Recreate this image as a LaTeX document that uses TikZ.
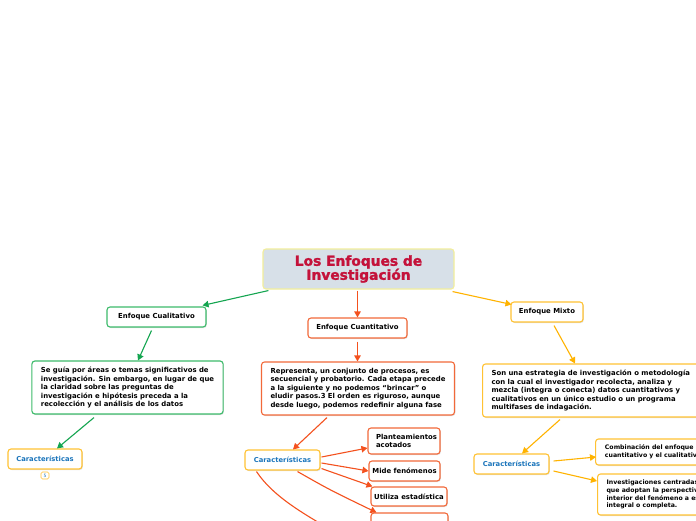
\documentclass[tikz,border=0pt]{standalone}
\usepackage{fontspec}
\setmainfont{DejaVu Sans}
\newfontfamily\titlefont{DejaVu Sans Bold}[FakeBold=1.8]
\usetikzlibrary{arrows.meta,shadows}
\definecolor{gline}{HTML}{14A550}
\definecolor{gbord}{HTML}{3DBB6B}
\definecolor{oline}{HTML}{F4511E}
\definecolor{obord}{HTML}{F2693A}
\definecolor{yline}{HTML}{FFB300}
\definecolor{ybord}{HTML}{FFC233}
\definecolor{tfill}{HTML}{D7E0E8}
\definecolor{tbord}{HTML}{F2EE9C}
\definecolor{ttext}{HTML}{C4123A}
\definecolor{ctext}{HTML}{1B75BB}
\tikzset{
  box/.style={draw, line width=1.1pt, rounded corners=3pt, fill=white, inner sep=0pt,
    font=\bfseries\fontsize{6.9}{8.5}\selectfont,
    drop shadow={shadow xshift=0.8pt, shadow yshift=-1pt, opacity=0.25}},
  gbox/.style={box, draw=gbord},
  obox/.style={box, draw=obord},
  ybox/.style={box, draw=ybord},
  lefttext/.style={align=left, inner xsep=9pt},
  cbox/.style={box, draw=ybord, text=ctext, font=\bfseries\fontsize{6.8}{8}\selectfont},
  smalltext/.style={font=\bfseries\fontsize{6.2}{7.8}\selectfont},
  garrow/.style={draw=gline, line width=1.1pt, -{Triangle[length=6pt,width=6.5pt]}},
  oarrow/.style={draw=oline, line width=1.1pt, -{Triangle[length=6pt,width=6.5pt]}},
  yarrow/.style={draw=yline, line width=1.1pt, -{Triangle[length=6pt,width=6.5pt]}},
}
\begin{document}
\begin{tikzpicture}[x=1pt,y=-1pt]
\useasboundingbox (0,0) rectangle (696,520);
\clip (0,0) rectangle (696,520);
\fill[white] (0,0) rectangle (696,520);

% title
\node[draw=tbord, fill=tfill, line width=1.1pt, rounded corners=3pt, minimum width=191pt, minimum height=40pt, inner sep=0pt,
  text=ttext, align=center, font=\titlefont\fontsize{13.8}{14}\selectfont] (title) at (358.5,269) {Los Enfoques de\\Investigación};

% left branch
\node[gbox, minimum width=99pt, minimum height=20pt] (cual) at (156.5,317) {Enfoque Cualitativo};
\node[gbox, lefttext, minimum width=191pt, minimum height=53pt] (cualtext) at (127.5,387.5)
  {Se guía por áreas o temas significativos de\\investigación. Sin embargo, en lugar de que\\la claridad sobre las preguntas de\\investigación e hipótesis preceda a la\\recolección y el análisis de los datos};
\node[cbox, minimum width=74pt, minimum height=20pt] (carL) at (45,459) {Características};
\node[draw=ybord, line width=0.6pt, rounded corners=1.5pt, fill=white, minimum width=8pt, minimum height=7pt, inner sep=0pt,
  text=ctext, font=\fontsize{4.5}{4.5}\selectfont] (badge) at (45,475.5) {5};

% center branch
\node[obox, minimum width=99pt, minimum height=20pt] (cuant) at (357.5,328) {Enfoque Cuantitativo};
\node[obox, lefttext, minimum width=192pt, minimum height=53pt] (cuanttext) at (358,388.5)
  {Representa, un conjunto de procesos, es\\secuencial y probatorio. Cada etapa precede\\a la siguiente y no podemos “brincar” o\\eludir pasos.3 El orden es riguroso, aunque\\desde luego, podemos redefinir alguna fase};
\node[cbox, minimum width=75pt, minimum height=20pt] (carC) at (282.5,460) {Características};
\node[obox, align=left, text width=56pt, inner xsep=8pt, minimum height=26pt] (plant) at (404,441)
  {Planteamientos\\acotados};
\node[obox, minimum width=71pt, minimum height=20pt] (mide) at (404.5,471) {Mide fenómenos};
\node[obox, minimum width=76pt, minimum height=19pt] (util) at (409,496.5) {Utiliza estadística};
\node[obox, minimum width=77pt, minimum height=26pt] (part) at (409.5,526) {};
\coordinate (offC) at (335,532);

% right branch
\node[ybox, minimum width=72pt, minimum height=20pt] (mixto) at (547,312) {Enfoque Mixto};
\node[ybox, lefttext, minimum height=53pt, anchor=west] (mixtext) at (482,390.5)
  {Son una estrategia de investigación o metodología\\con la cual el investigador recolecta, analiza y\\mezcla (integra o conecta) datos cuantitativos y\\cualitativos en un único estudio o un programa\\multifases de indagación.};
\node[cbox, minimum width=75pt, minimum height=20pt] (carR) at (511.5,464) {Características};
\node[ybox, lefttext, smalltext, minimum width=115pt, minimum height=26pt, anchor=west] (comb) at (595,452)
  {Combinación del enfoque\\cuantitativo y el cualitativo};
\node[ybox, lefttext, smalltext, minimum width=115pt, minimum height=41pt, anchor=west] (inv) at (597,494.5)
  {Investigaciones centradas\\que adoptan la perspectiva\\interior del fenómeno a estudiar\\integral o completa.};

% connectors
\draw[garrow] ([shift={(6,1)}]title.south west) -- ([shift={(-4,-1)}]cual.north east);
\draw[garrow] ([shift={(-5,3)}]cual.south) -- ([shift={(10.5,0)}]cualtext.north);
\draw[garrow] ([shift={(-33.5,3)}]cualtext.south) -- ([shift={(12,0)}]carL.north);

\draw[oarrow] ([shift={(0,1)}]title.south -| cuant.north) -- (cuant.north);
\draw[oarrow] ([shift={(0,3)}]cuant.south) -- (cuant.south |- cuanttext.north);
\draw[oarrow] ([shift={(-31,2)}]cuanttext.south) -- ([shift={(10.5,0)}]carC.north);
\draw[oarrow] ([shift={(1,-3)}]carC.east) -- ([shift={(0,7)}]plant.west);
\draw[oarrow] ([shift={(1,3)}]carC.east) -- (mide.west);
\draw[oarrow] ([shift={(1,-2)}]carC.south east) -- ([shift={(2,0)}]util.north west);
\draw[oarrow] ([shift={(15,1)}]carC.south) .. controls (330,490) .. ([shift={(6,0)}]part.north west);
\draw[draw=oline, line width=1.1pt] ([shift={(-26,1)}]carC.south) .. controls (272,495) and (300,512) .. (offC);

\draw[yarrow] ([shift={(-2,2)}]title.south east) -- ([shift={(1,3)}]mixto.north west);
\draw[yarrow] ([shift={(7,3)}]mixto.south) -- ([shift={(93,0)}]mixtext.north west);
\draw[yarrow] ([shift={(78,2)}]mixtext.south west) -- ([shift={(10.5,0)}]carR.north);
\draw[yarrow] ([shift={(4,-3)}]carR.east) -- ([shift={(1,5)}]comb.west);
\draw[yarrow] ([shift={(4,7)}]carR.east) -- ([shift={(0,-13.5)}]inv.west);
\end{tikzpicture}
\end{document}
